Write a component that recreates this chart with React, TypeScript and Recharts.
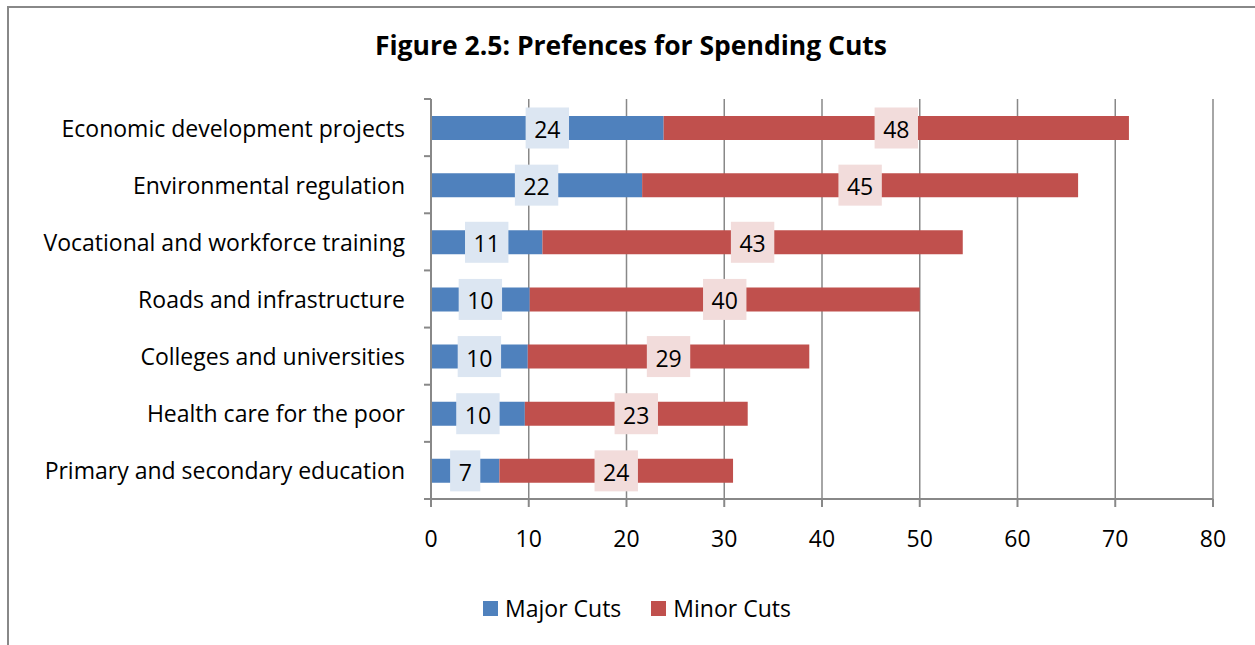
import React from 'react';
import { BarChart, Bar, XAxis, YAxis, CartesianGrid, LabelList } from 'recharts';

const categories = [
    'Economic development projects',
    'Environmental regulation',
    'Vocational and workforce training',
    'Roads and infrastructure',
    'Colleges and universities',
    'Health care for the poor',
    'Primary and secondary education',
];
const majorCuts = [23.8, 21.6, 11.4, 10.1, 9.9, 9.6, 7.0];
const minorCuts = [47.6, 44.6, 43.0, 39.9, 28.8, 22.8, 23.9];
const xTicks = [0, 10, 20, 30, 40, 50, 60, 70, 80];

const data = categories.map((name, i) => ({ name, major: majorCuts[i], minor: minorCuts[i] }));

const FONT = '"Open Sans", Lato, sans-serif';
const FS = 23;
const W = 1255;
const H = 645;
const TOP = 99;
const PLOT_BOTTOM = 499;
const BAND = (PLOT_BOTTOM - TOP) / categories.length;
const AXIS = '#888888';

const BLUE = '#4F81BD';
const RED = '#C0504D';

const makeLabel = (bg: string) => (props: any) => {
    const { x, y, width, height, value } = props;
    const text = String(Math.round(Number(value)));
    const w = text.length * 13.2 + 17;
    const h = 41;
    const cx = Number(x) + Number(width) / 2;
    const cy = Number(y) + Number(height) / 2;
    return (
        <g>
            <rect x={cx - w / 2} y={cy - h / 2} width={w} height={h} fill={bg} />
            <text x={cx} y={cy + 1} textAnchor="middle" dominantBaseline="central" fontSize={FS} fontFamily={FONT} fill="#000">
                {text}
            </text>
        </g>
    );
};

const CategoryTick = (props: any) => {
    const { y, payload, index } = props;
    const ax = 431;
    return (
        <g>
            <line x1={ax - 7} x2={ax} y1={y - BAND / 2} y2={y - BAND / 2} stroke={AXIS} strokeWidth={2} />
            {index === categories.length - 1 && (
                <line x1={ax - 7} x2={ax} y1={y + BAND / 2} y2={y + BAND / 2} stroke={AXIS} strokeWidth={2} />
            )}
            <text x={ax - 26} y={y} textAnchor="end" dominantBaseline="central" fontSize={FS} fontFamily={FONT} fill="#000">
                {payload.value}
            </text>
        </g>
    );
};

export default function App() {
    return (
        <div style={{ position: 'fixed', left: 0, top: 0, width: W, height: H, overflow: 'hidden', background: '#fff' }}>
            <div
                style={{
                    position: 'absolute',
                    left: 7,
                    top: 6,
                    width: W + 50,
                    height: H + 50,
                    borderLeft: `2px solid ${AXIS}`,
                    borderTop: `2px solid ${AXIS}`,
                }}
            />
            <div
                style={{
                    position: 'absolute',
                    left: 0,
                    width: 1262,
                    top: 27,
                    textAlign: 'center',
                    fontFamily: FONT,
                    fontWeight: 'bold',
                    fontSize: 26.5,
                    color: '#000',
                }}
            >
                Figure 2.5: Prefences for Spending Cuts
            </div>
            <div style={{ position: 'absolute', left: 0, top: 0 }}>
                <BarChart
                    width={W}
                    height={H}
                    data={data}
                    layout="vertical"
                    barSize={24}
                    margin={{ top: TOP, right: 42, bottom: H - PLOT_BOTTOM - 50, left: 31 }}
                >
                    <CartesianGrid horizontal={false} stroke={AXIS} strokeWidth={1.5} />
                    <XAxis
                        type="number"
                        domain={[0, 80]}
                        ticks={xTicks}
                        height={50}
                        tickSize={8}
                        tickMargin={24}
                        axisLine={{ stroke: AXIS, strokeWidth: 2 }}
                        tickLine={{ stroke: AXIS, strokeWidth: 2 }}
                        tick={{ fontSize: FS, fontFamily: FONT, fill: '#000' }}
                        interval={0}
                    />
                    <YAxis
                        type="category"
                        dataKey="name"
                        width={400}
                        axisLine={{ stroke: AXIS, strokeWidth: 2 }}
                        tickLine={false}
                        tick={<CategoryTick />}
                        interval={0}
                    />
                    <Bar dataKey="major" stackId="a" fill={BLUE} isAnimationActive={false}>
                        <LabelList dataKey="major" content={makeLabel('#DCE6F2')} />
                    </Bar>
                    <Bar dataKey="minor" stackId="a" fill={RED} isAnimationActive={false}>
                        <LabelList dataKey="minor" content={makeLabel('#F2DCDB')} />
                    </Bar>
                </BarChart>
            </div>
            <div
                style={{
                    position: 'absolute',
                    left: 0,
                    width: 1274,
                    top: 592,
                    display: 'flex',
                    justifyContent: 'center',
                    alignItems: 'center',
                    gap: 30,
                    fontFamily: FONT,
                    fontSize: FS,
                    color: '#000',
                }}
            >
                {[
                    ['Major Cuts', BLUE],
                    ['Minor Cuts', RED],
                ].map(([label, color]) => (
                    <div key={label} style={{ display: 'flex', alignItems: 'center', gap: 7 }}>
                        <span style={{ width: 15, height: 15, background: color, display: 'inline-block' }} />
                        <span>{label}</span>
                    </div>
                ))}
            </div>
        </div>
    );
}
